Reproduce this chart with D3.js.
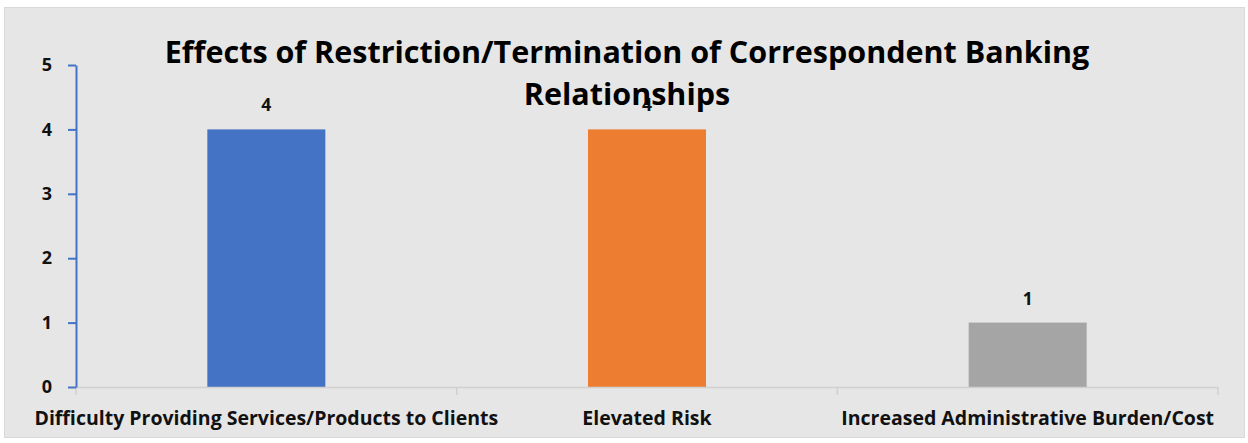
<!DOCTYPE html>
<html>
<head>
<meta charset="utf-8">
<script src="https://cdn.jsdelivr.net/npm/d3@7"></script>
<style>
  html, body { margin: 0; padding: 0; background: #ffffff; }
  svg { display: block; font-family: "Open Sans", Lato, sans-serif; }
</style>
</head>
<body>
<svg id="chart" width="1248" height="443"></svg>
<script>
// Données du graphique
const CATEGORIES = [
  "Difficulty Providing Services/Products to Clients",
  "Elevated Risk",
  "Increased Administrative Burden/Cost"
];
const VALUES = [4, 4, 1];
const COLORS = ["#4472c4", "#ed7d31", "#a5a5a5"];
const Y_TICKS = [0, 1, 2, 3, 4, 5];
const TITLE_LINES = ["Effects of Restriction/Termination of Correspondent Banking", "Relationships"];

const SVG = d3.select("#chart");
const WIDTH = 1248;
const HEIGHT = 443;
const MARGIN = { top: 65, bottom: 56, left: 76, right: 30 };

// Fond gris de la zone du graphique
SVG.append("rect")
  .attr("x", 4.5).attr("y", 7.5)
  .attr("width", 1240).attr("height", 430)
  .attr("fill", "#e6e6e6")
  .attr("stroke", "#d9d9d9");

const SCALE_X = d3.scaleBand()
  .domain(CATEGORIES)
  .range([MARGIN.left, WIDTH - MARGIN.right])
  .paddingInner(0.69)
  .paddingOuter(0.345);

const SCALE_Y = d3.scaleLinear()
  .domain([0, 5])
  .range([HEIGHT - MARGIN.bottom, MARGIN.top]);

// Barres
SVG.selectAll("rect.bar")
  .data(VALUES)
  .enter()
  .append("rect")
  .attr("class", "bar")
  .attr("x", (d, i) => SCALE_X(CATEGORIES[i]))
  .attr("y", d => SCALE_Y(d))
  .attr("width", SCALE_X.bandwidth())
  .attr("height", d => SCALE_Y(0) - SCALE_Y(d))
  .attr("fill", (d, i) => COLORS[i]);

// Axe des x : ligne grise avec des repères entre les catégories
const X_EDGES = d3.range(CATEGORIES.length + 1)
  .map(i => MARGIN.left + i * (WIDTH - MARGIN.right - MARGIN.left) / CATEGORIES.length);
const Y0 = SCALE_Y(0);
SVG.append("line")
  .attr("x1", X_EDGES[0]).attr("x2", X_EDGES[X_EDGES.length - 1])
  .attr("y1", Y0 + 0.5).attr("y2", Y0 + 0.5)
  .attr("stroke", "#d0d0d0").attr("stroke-width", 1.5);
SVG.selectAll("line.xtick")
  .data(X_EDGES)
  .enter()
  .append("line")
  .attr("class", "xtick")
  .attr("x1", d => d).attr("x2", d => d)
  .attr("y1", Y0).attr("y2", Y0 + 8)
  .attr("stroke", "#d0d0d0").attr("stroke-width", 1.5);

SVG.selectAll("text.xlabel")
  .data(CATEGORIES)
  .enter()
  .append("text")
  .attr("class", "xlabel")
  .attr("x", d => SCALE_X(d) + SCALE_X.bandwidth() / 2)
  .attr("y", 425)
  .attr("text-anchor", "middle")
  .attr("font-size", 19.5)
  .attr("font-weight", "bold")
  .attr("fill", "#111")
  .text(d => d);

// Axe des y en bleu
const Y_AXIS = SVG.append("g")
  .attr("transform", `translate(${MARGIN.left},0)`)
  .call(d3.axisLeft(SCALE_Y).tickValues(Y_TICKS).tickFormat(d3.format("d"))
    .tickSize(8).tickPadding(16).tickSizeOuter(0));
Y_AXIS.select(".domain").attr("stroke", "#4472c4").attr("stroke-width", 2);
Y_AXIS.selectAll(".tick line").attr("stroke", "#4472c4").attr("stroke-width", 2);
Y_AXIS.selectAll(".tick text")
  .attr("font-family", "'Open Sans', sans-serif")
  .attr("font-size", 18)
  .attr("font-weight", "bold")
  .attr("fill", "#111");

// Étiquettes de valeur
SVG.selectAll("text.value")
  .data(VALUES)
  .enter()
  .append("text")
  .attr("class", "value")
  .attr("x", (d, i) => SCALE_X(CATEGORIES[i]) + SCALE_X.bandwidth() / 2)
  .attr("y", d => SCALE_Y(d) - 18)
  .attr("text-anchor", "middle")
  .attr("font-size", 17.5)
  .attr("font-weight", "bold")
  .attr("fill", "#111")
  .text(d => d);

// Titre sur deux lignes
SVG.selectAll("text.title")
  .data(TITLE_LINES)
  .enter()
  .append("text")
  .attr("class", "title")
  .attr("x", 627)
  .attr("y", (d, i) => 63 + i * 42)
  .attr("text-anchor", "middle")
  .attr("font-size", 30.5)
  .attr("font-weight", "bold")
  .attr("fill", "#000")
  .text(d => d);
</script>
</body>
</html>
